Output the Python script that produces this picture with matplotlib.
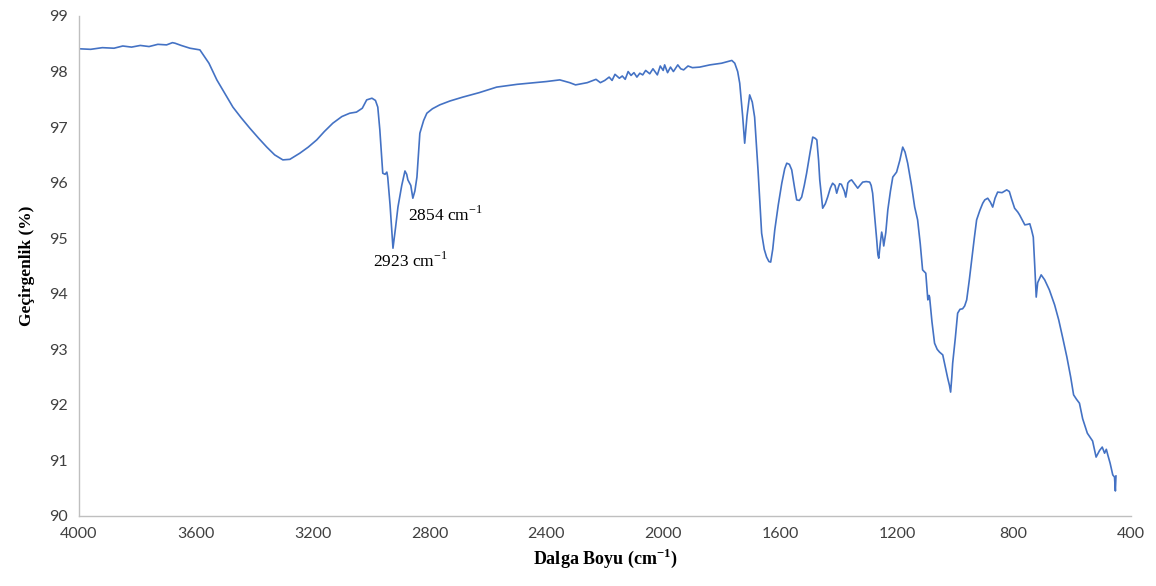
import matplotlib
matplotlib.use("Agg")
from matplotlib import pyplot as plt
import numpy as np

# FTIR spectrum (wavenumber cm-1, transmittance %)
wavenumber = [4000, 3960, 3920, 3880, 3850, 3820, 3790, 3760, 3730, 3700, 3680, 3671, 3650,
              3620, 3586, 3555, 3528, 3500, 3473, 3445, 3415, 3385, 3357, 3330, 3302, 3278,
              3244, 3215, 3186, 3160, 3131, 3100, 3073, 3050, 3030, 3015, 2997, 2985, 2977,
              2970, 2960, 2952, 2946, 2943, 2935, 2925, 2916, 2908, 2895, 2884, 2878, 2874,
              2864, 2857, 2850, 2843, 2833, 2820, 2809, 2790, 2765, 2730, 2686, 2630, 2570,
              2500, 2440, 2400, 2354, 2320, 2300, 2260, 2230, 2215, 2200, 2185, 2175, 2165,
              2150, 2140, 2130, 2120, 2110, 2100, 2090, 2080, 2070, 2060, 2046, 2035, 2020,
              2010, 2000, 1995, 1985, 1975, 1965, 1950, 1940, 1930, 1915, 1900, 1875, 1840,
              1800, 1772, 1765,
              1755, 1745, 1738, 1728, 1721, 1713, 1704, 1695, 1687, 1675, 1663, 1654, 1646,
              1638, 1632, 1625, 1618, 1606, 1594, 1584, 1577, 1568, 1560, 1550, 1543, 1534,
              1526, 1517, 1509, 1497, 1488, 1480, 1474, 1468, 1464, 1458, 1454, 1445, 1437,
              1428, 1420, 1412, 1406, 1400, 1396, 1390, 1386, 1380, 1375, 1370, 1368, 1362,
              1355, 1345, 1334, 1325, 1317, 1305, 1293, 1288, 1283, 1276, 1269, 1265, 1262,
              1257, 1252, 1248, 1245, 1238, 1231, 1222, 1214, 1207, 1201, 1190, 1180, 1172,
              1163, 1150, 1139, 1129, 1120, 1112, 1101, 1097, 1094, 1090, 1088, 1080, 1071,
              1062, 1054, 1043, 1035, 1026, 1020, 1016, 1012, 1009, 1000, 992, 984, 975,
              968, 961, 952, 944, 935, 927, 916, 906, 899, 889, 880, 872, 864, 855, 840,
              824, 815, 807, 797, 786, 780, 773, 762, 752, 745, 739, 733, 728, 723, 718,
              706, 694, 678, 660, 646, 632, 618, 605, 595, 585, 575, 564, 548, 530, 518,
              506, 497, 489, 483, 478, 470, 461, 455, 452, 450]
transmittance = [98.41, 98.40, 98.43, 98.42, 98.46, 98.44, 98.47, 98.45, 98.49, 98.48, 98.52, 98.51, 98.47,
                 98.42, 98.39, 98.15, 97.85, 97.60, 97.36, 97.17, 96.98, 96.80, 96.64, 96.50, 96.41, 96.42,
                 96.53, 96.64, 96.77, 96.92, 97.07, 97.19, 97.25, 97.27, 97.34, 97.49, 97.52, 97.48, 97.36,
                 96.95, 96.17, 96.15, 96.19, 96.10, 95.60, 94.82, 95.20, 95.56, 95.95, 96.21, 96.15, 96.05,
                 95.95, 95.72, 95.85, 96.10, 96.89, 97.12, 97.25, 97.33, 97.40, 97.47, 97.54, 97.62, 97.72,
                 97.77, 97.80, 97.82, 97.85, 97.80, 97.76, 97.80, 97.86, 97.80, 97.84, 97.90, 97.84, 97.95,
                 97.88, 97.92, 97.86, 98.00, 97.93, 97.98, 97.90, 97.97, 97.94, 98.02, 97.96, 98.05, 97.94,
                 98.10, 98.02, 98.12, 97.98, 98.08, 98.00, 98.12, 98.05, 98.03, 98.10, 98.07, 98.08, 98.12,
                 98.15, 98.19, 98.20,
                 98.15, 98.00, 97.79, 97.20, 96.71, 97.20, 97.58, 97.45, 97.18, 96.20, 95.09, 94.80, 94.66,
                 94.58, 94.57, 94.80, 95.15, 95.60, 95.99, 96.25, 96.35, 96.33, 96.23, 95.90, 95.69, 95.68,
                 95.74, 95.95, 96.17, 96.55, 96.82, 96.80, 96.77, 96.40, 96.05, 95.75, 95.54, 95.62, 95.74,
                 95.90, 95.99, 95.95, 95.81, 95.92, 95.98, 95.97, 95.92, 95.85, 95.74, 95.90, 95.99, 96.03,
                 96.05, 95.98, 95.90, 95.96, 96.01, 96.02, 96.01, 95.95, 95.81, 95.40, 94.97, 94.70, 94.64,
                 94.90, 95.11, 95.00, 94.86, 95.10, 95.51, 95.85, 96.10, 96.15, 96.19, 96.40, 96.64, 96.55,
                 96.35, 95.95, 95.56, 95.33, 94.90, 94.43, 94.37, 94.10, 93.89, 93.97, 93.94, 93.50, 93.11,
                 93.00, 92.95, 92.90, 92.70, 92.48, 92.35, 92.23, 92.50, 92.75, 93.20, 93.65, 93.72, 93.73,
                 93.78, 93.89, 94.25, 94.61, 95.00, 95.33, 95.50, 95.63, 95.69, 95.72, 95.65, 95.56, 95.72,
                 95.83, 95.82, 95.87, 95.84, 95.70, 95.54, 95.47, 95.42, 95.35, 95.24, 95.25, 95.26, 95.15,
                 95.02, 94.50, 93.94, 94.20, 94.34, 94.25, 94.07, 93.80, 93.53, 93.20, 92.86, 92.50, 92.18,
                 92.10, 92.03, 91.75, 91.49, 91.35, 91.06, 91.18, 91.24, 91.13, 91.20, 91.10, 90.95, 90.74,
                 90.70, 90.45, 90.72]

peak_labels = ["2923 cm$^{-1}$", "2854 cm$^{-1}$"]
label_pos = [(2994, 94.58), (2872, 95.42)]

xticks = [4000, 3600, 3200, 2800, 2400, 2000, 1600, 1200, 800, 400]
yticks = [90, 91, 92, 93, 94, 95, 96, 97, 98, 99]

plt.rcParams['mathtext.fontset'] = 'custom'
plt.rcParams['mathtext.rm'] = 'Liberation Serif'
plt.rcParams['mathtext.bf'] = 'Liberation Serif:bold'

fig = plt.figure(figsize=(11.56, 5.86), dpi=100)
ax = fig.add_axes([0.0683, 0.1195, 0.9097, 0.8532])

ax.plot(wavenumber, transmittance, color='#4472C4', lw=1.2)

ax.set_xlim(4000, 400)
ax.set_ylim(90, 99)
ax.set_xticks(xticks)
ax.set_yticks(yticks)
ax.tick_params(length=0, labelsize=11.5, colors='#404040', pad=8)
for lab in ax.get_xticklabels() + ax.get_yticklabels():
    lab.set_family('Lato')

for s in ['top', 'right']:
    ax.spines[s].set_visible(False)
for s in ['left', 'bottom']:
    ax.spines[s].set_color('#BFBFBF')
    ax.spines[s].set_linewidth(1.0)

for txt, (x, y) in zip(peak_labels, label_pos):
    ax.text(x, y, txt, ha='left', va='center', fontsize=12.5, family='Liberation Serif')

ax.set_xlabel(r'Dalga Boyu (cm$^{\mathbf{-1}}$)', fontsize=13, fontweight='bold',
              family='Liberation Serif', labelpad=4)
ax.set_ylabel('Geçirgenlik (%)', fontsize=12.5, fontweight='bold',
              family='Liberation Serif', labelpad=10)

plt.savefig("out.png")
